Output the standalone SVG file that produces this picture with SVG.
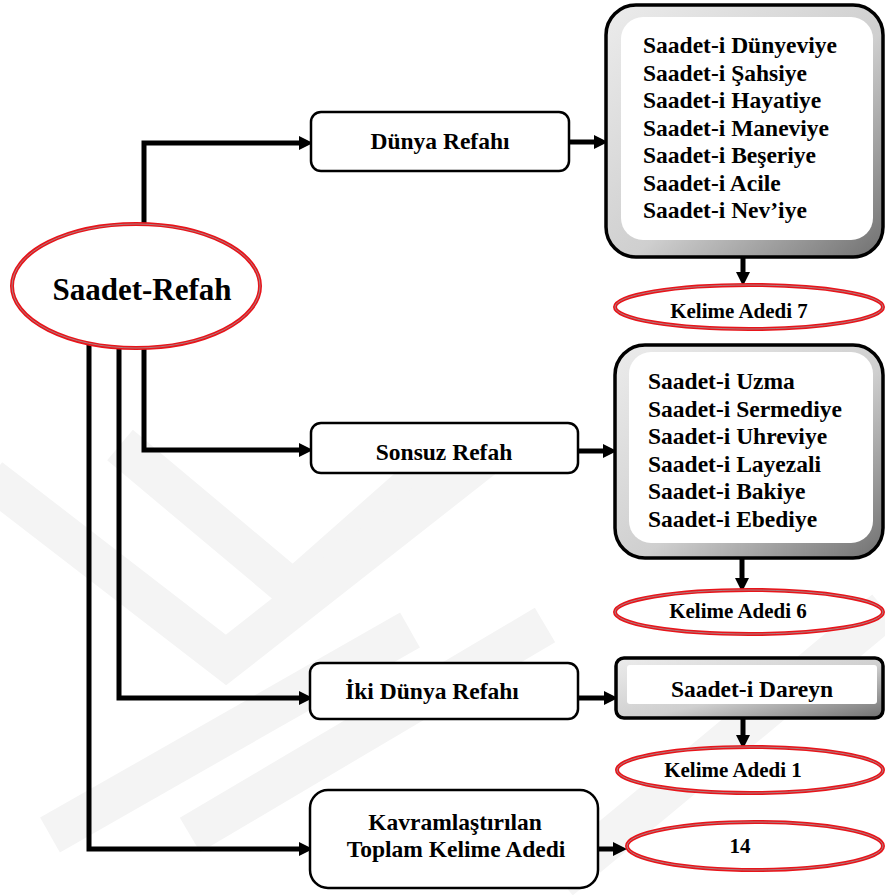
<svg xmlns="http://www.w3.org/2000/svg" width="885" height="895" viewBox="0 0 885 895">
<defs>
<style>
text{font-family:"Liberation Serif","Times New Roman",serif;font-weight:bold;fill:#000}
.lbl{font-size:23.5px;text-anchor:middle}
.lst{font-size:23.5px}
.cnt{font-size:21px;text-anchor:middle}
.box{fill:#fff;stroke:#000;stroke-width:2.5}
.frame{fill:url(#bevel);stroke:#000;stroke-width:3.5}
.inner{fill:#fff;stroke:none}
.ring{fill:#fff;stroke:#e8141a;stroke-width:4}
.ringmid{fill:none;stroke:#9a9a9a;stroke-width:0.8}
.conn{fill:none;stroke:#000;stroke-width:5;marker-end:url(#arr)}
.wm{fill:none;stroke:#f4f4f4;stroke-width:40}
</style>
<linearGradient id="bevel" x1="0" y1="0" x2="1" y2="1">
<stop offset="0" stop-color="#ececec"/>
<stop offset="0.55" stop-color="#cfcfcf"/>
<stop offset="1" stop-color="#707070"/>
</linearGradient>
<marker id="arr" markerUnits="userSpaceOnUse" markerWidth="14" markerHeight="14" refX="2" refY="7" orient="auto">
<path d="M0,0 L14,7 L0,14 z" fill="#000"/>
</marker>
</defs>
<rect width="885" height="895" fill="#fff"/>
<g id="watermark">
<path class="wm" d="M120,445 L293,590 L440,460"/>
<path class="wm" d="M-10,478 L226,660 L500,445"/>
<path class="wm" d="M50,835 L410,630"/>
<path class="wm" d="M190,835 L545,625"/>
<path class="wm" d="M560,880 L885,610"/>
</g>
<g id="connectors">
<path class="conn" d="M144,224 V143 H301"/>
<path class="conn" d="M144,347 V450 H301"/>
<path class="conn" d="M119,346 V698 H301"/>
<path class="conn" d="M89,343 V849 H301"/>
<path class="conn" d="M569,142 H596"/>
<path class="conn" d="M578,451 H605"/>
<path class="conn" d="M578,698 H606"/>
<path class="conn" d="M598,849 H615"/>
<path class="conn" d="M743,257 V274"/>
<path class="conn" d="M742,558 V580"/>
<path class="conn" d="M743,718 V737"/>
</g>
<g id="saadet-refah">
<ellipse class="ring" cx="136" cy="286" rx="124" ry="62" stroke-width="5"/>
<ellipse class="ringmid" cx="136" cy="286" rx="124" ry="62"/>
<text x="142" y="300" font-size="31" text-anchor="middle">Saadet-Refah</text>
</g>
<g id="dunya-refahi">
<rect class="box" x="311" y="112" width="258" height="59" rx="10"/>
<text class="lbl" x="440" y="149">Dünya Refahı</text>
</g>
<g id="sonsuz-refah">
<rect class="box" x="311" y="423" width="267" height="50" rx="10"/>
<text class="lbl" x="444" y="460">Sonsuz Refah</text>
</g>
<g id="iki-dunya-refahi">
<rect class="box" x="310" y="663" width="268" height="56" rx="10"/>
<text class="lbl" x="432" y="699">İki Dünya Refahı</text>
</g>
<g id="toplam">
<rect class="box" x="310" y="790" width="288" height="98" rx="18"/>
<text class="lbl" x="455" y="830">Kavramlaştırılan</text>
<text class="lbl" x="456" y="857">Toplam Kelime Adedi</text>
</g>
<g id="dunya-list">
<rect class="frame" x="606" y="5" width="277" height="252" rx="30"/>
<rect class="inner" x="621" y="17" width="252" height="223" rx="22"/>
<text class="lst" x="643" y="53">Saadet-i Dünyeviye</text>
<text class="lst" x="643" y="80.5">Saadet-i Şahsiye</text>
<text class="lst" x="643" y="108">Saadet-i Hayatiye</text>
<text class="lst" x="643" y="135.5">Saadet-i Maneviye</text>
<text class="lst" x="643" y="163">Saadet-i Beşeriye</text>
<text class="lst" x="643" y="190.5">Saadet-i Acile</text>
<text class="lst" x="643" y="218">Saadet-i Nev’iye</text>
</g>
<g id="sonsuz-list">
<rect class="frame" x="615" y="345" width="268" height="213" rx="30"/>
<rect class="inner" x="629" y="352" width="244" height="191" rx="22"/>
<text class="lst" x="648" y="389">Saadet-i Uzma</text>
<text class="lst" x="648" y="416.5">Saadet-i Sermediye</text>
<text class="lst" x="648" y="444">Saadet-i Uhreviye</text>
<text class="lst" x="648" y="471.5">Saadet-i Layezali</text>
<text class="lst" x="648" y="499">Saadet-i Bakiye</text>
<text class="lst" x="648" y="526.5">Saadet-i Ebediye</text>
</g>
<g id="dareyn">
<rect class="frame" x="616" y="658" width="267" height="60" rx="8"/>
<rect class="inner" x="627" y="665" width="250" height="39" rx="3"/>
<text class="lbl" x="752" y="697">Saadet-i Dareyn</text>
</g>
<g id="kelime-7">
<ellipse class="ring" cx="749" cy="307" rx="134" ry="22"/>
<ellipse class="ringmid" cx="749" cy="307" rx="134" ry="22"/>
<text class="cnt" x="739" y="318">Kelime Adedi 7</text>
</g>
<g id="kelime-6">
<ellipse class="ring" cx="749" cy="612" rx="134" ry="22"/>
<ellipse class="ringmid" cx="749" cy="612" rx="134" ry="22"/>
<text class="cnt" x="738" y="618">Kelime Adedi 6</text>
</g>
<g id="kelime-1">
<ellipse class="ring" cx="750" cy="770" rx="133" ry="23"/>
<ellipse class="ringmid" cx="750" cy="770" rx="133" ry="23"/>
<text class="cnt" x="733" y="777">Kelime Adedi 1</text>
</g>
<g id="toplam-14">
<ellipse class="ring" cx="755" cy="846" rx="128" ry="24"/>
<ellipse class="ringmid" cx="755" cy="846" rx="128" ry="24"/>
<text class="cnt" x="740" y="853">14</text>
</g>
</svg>
